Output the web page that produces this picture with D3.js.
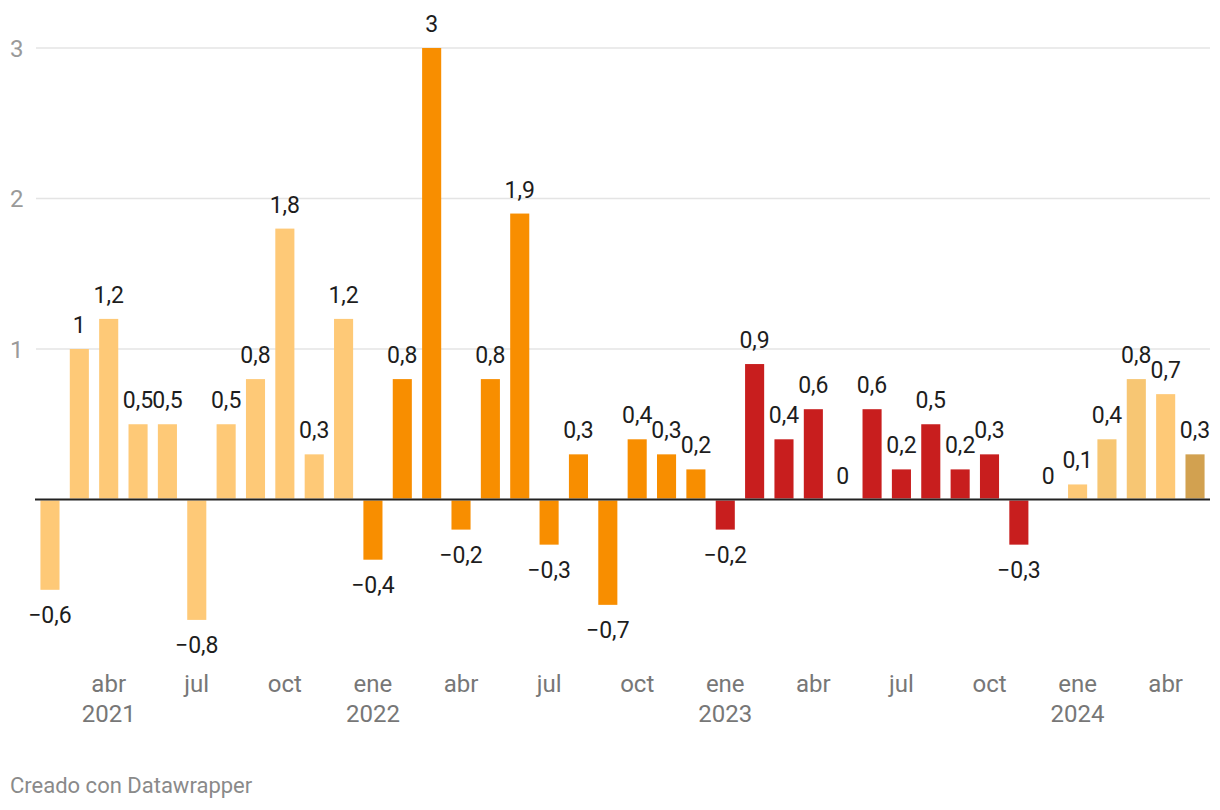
<!DOCTYPE html>
<html>
<head>
<meta charset="utf-8">
<script src="https://cdn.jsdelivr.net/npm/d3@7"></script>
<style>
  body { margin: 0; background: #fff; font-family: Roboto, "Noto Sans", sans-serif; }
</style>
</head>
<body>
<div id="chart"></div>
<script>
// monthly values, feb 2021 - may 2024
const months = [
    "2021-02", "2021-03", "2021-04", "2021-05", "2021-06", "2021-07", "2021-08", "2021-09", "2021-10", "2021-11", "2021-12",
    "2022-01", "2022-02", "2022-03", "2022-04", "2022-05", "2022-06", "2022-07", "2022-08", "2022-09", "2022-10", "2022-11", "2022-12",
    "2023-01", "2023-02", "2023-03", "2023-04", "2023-05", "2023-06", "2023-07", "2023-08", "2023-09", "2023-10", "2023-11", "2023-12",
    "2024-01", "2024-02", "2024-03", "2024-04", "2024-05"
];
const values = [
    -0.6, 1, 1.2, 0.5, 0.5, -0.8, 0.5, 0.8, 1.8, 0.3, 1.2,
    -0.4, 0.8, 3, -0.2, 0.8, 1.9, -0.3, 0.3, -0.7, 0.4, 0.3, 0.2,
    -0.2, 0.9, 0.4, 0.6, 0, 0.6, 0.2, 0.5, 0.2, 0.3, -0.3, 0,
    0.1, 0.4, 0.8, 0.7, 0.3
];
const yTicks = [1, 2, 3];
const monthNames = {"01": "ene", "04": "abr", "07": "jul", "10": "oct"};

const data = months.map((m, i) => ({ month: m, value: values[i] }));

function barColor(d, i) {
    if (i === months.length - 1) return "#d2a150";
    const y = d.month.slice(0, 4);
    if (y === "2021") return "#fec977";
    if (y === "2022") return "#f88e00";
    if (y === "2023") return "#c81e1e";
    if (d.month === "2024-02" || d.month === "2024-03") return "#f7c673";
    return "#fec977";
}

const width = 1220, height = 810;

const svg = d3.select("#chart")
    .append("svg")
    .attr("width", width)
    .attr("height", height);

const x = d3.scaleBand()
    .domain(months)
    .range([35, 1210])
    .paddingInner(0.35)
    .paddingOuter(0.185);

const y = d3.scaleLinear()
    .domain([0, 3])
    .range([499.5, 48]);

// gridlines
svg.selectAll(".grid")
    .data(yTicks)
    .enter()
    .append("line")
    .attr("x1", 36)
    .attr("x2", 1210)
    .attr("y1", d => y(d))
    .attr("y2", d => y(d))
    .style("stroke", "#e4e4e4")
    .style("stroke-width", 1.5);

svg.selectAll(".ytick")
    .data(yTicks)
    .enter()
    .append("text")
    .attr("x", 10)
    .attr("y", d => y(d))
    .attr("dy", "0.36em")
    .style("font-size", "24px")
    .style("fill", "#9a9a9a")
    .text(d => d);

// bars
svg.selectAll(".bar")
    .data(data)
    .enter()
    .append("rect")
    .attr("x", d => x(d.month))
    .attr("y", d => d.value >= 0 ? y(d.value) : y(0) + 1)
    .attr("width", x.bandwidth())
    .attr("height", d => Math.max(0, Math.abs(y(d.value) - y(0)) - 1))
    .style("fill", barColor);

// zero line
svg.append("line")
    .attr("x1", 35)
    .attr("x2", 1210)
    .attr("y1", y(0))
    .attr("y2", y(0))
    .style("stroke", "#222")
    .style("stroke-width", 2);

// value labels
const fmt = v => (v < 0 ? "\u2212" : "") + String(Math.abs(v)).replace(".", ",");
svg.selectAll(".label")
    .data(data)
    .enter()
    .append("text")
    .attr("x", d => x(d.month) + x.bandwidth() / 2)
    .attr("y", d => d.value >= 0 ? y(d.value) - 16 : y(d.value) + 33)
    .attr("text-anchor", "middle")
    .style("font-size", "23px")
    .style("fill", "#1d1d1d")
    .text(d => fmt(d.value));

// x axis labels
const tickData = data.filter(d => monthNames[d.month.slice(5)]);
svg.selectAll(".xtick")
    .data(tickData)
    .enter()
    .append("text")
    .attr("x", d => x(d.month) + x.bandwidth() / 2)
    .attr("y", 692)
    .attr("text-anchor", "middle")
    .style("font-size", "24px")
    .style("fill", "#777")
    .text(d => monthNames[d.month.slice(5)]);

const yearData = tickData.filter((d, i) => i === 0 || d.month.slice(5) === "01");
svg.selectAll(".xyear")
    .data(yearData)
    .enter()
    .append("text")
    .attr("x", d => x(d.month) + x.bandwidth() / 2)
    .attr("y", 722)
    .attr("text-anchor", "middle")
    .style("font-size", "24px")
    .style("fill", "#777")
    .text(d => d.month.slice(0, 4));

svg.append("text")
    .attr("x", 10)
    .attr("y", 793)
    .style("font-size", "22px")
    .style("fill", "#8a8a8a")
    .text("Creado con Datawrapper");
</script>
</body>
</html>
